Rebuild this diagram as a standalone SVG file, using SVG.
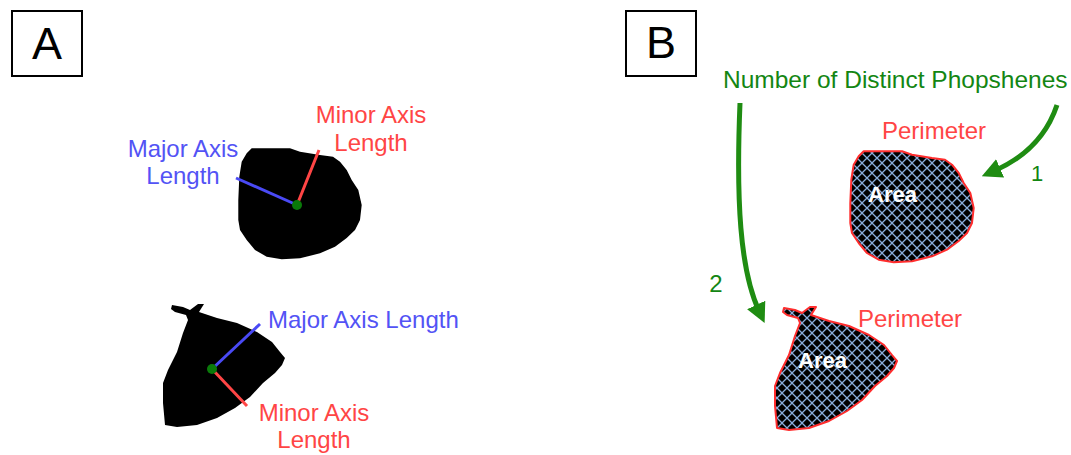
<svg xmlns="http://www.w3.org/2000/svg" width="1071" height="455" viewBox="0 0 1071 455">
<style>
text{font-family:"Liberation Sans",Arial,sans-serif;font-size:24px}
.lbl{fill:none;stroke:#000;stroke-width:2}
.big{font-size:45px;fill:#000;text-anchor:middle}
.blue{fill:#5353f5}
.red{fill:#ff4545}
.green{fill:#138613}
.mid{text-anchor:middle}
.area{fill:#fff;font-weight:bold;font-size:22px}
.blob{fill:#000}
.hblob{fill:url(#hatch);stroke:#ff2d2d;stroke-width:2;stroke-linejoin:round}
.maj{stroke:#4a4af5;stroke-width:3}
.min{stroke:#ff4545;stroke-width:3}
.cen{fill:#0a7a0a}
.arr{fill:none;stroke:#1f8c12;stroke-width:5;marker-end:url(#ah)}
</style>
<defs>
<pattern id="hatch" patternUnits="userSpaceOnUse" width="10" height="10">
<rect width="10" height="10" fill="#000"/>
<path d="M0,0L10,10M10,0L0,10" stroke="#8aaedc" stroke-width="1.3"/>
</pattern>
<path id="b1" d="M251.7,148.3L290,148.3L300,151.7L320,155L333,156.7L340,161.7L346.7,170L351.7,180L358.3,190L361.7,205L360,220L355,230L346.7,238L335,246.7L320,253.3L300,258.3L281.7,259.3L266.7,256.7L255,250L246.7,240L240,230L238.3,220L238.3,200L239.3,176.7L241.7,161.7L246.7,153.3Z"/>
<path id="b2" d="M172,305L183,307L190,310L198,304L204,304L199,312L217,318L237,323L257,332L272,342L280,352L285,358L282,365L275,373L263,383L250,397L235,408L217,418L197,425L177,427L165,425L163,403L163,383L168,370L177,352L183,333L188,320L186,315L175,312L171,309Z"/>
<marker id="ah" markerUnits="userSpaceOnUse" markerWidth="20" markerHeight="20" viewBox="0 0 18 18" refX="6" refY="9" orient="auto">
<path d="M0,0L18,9L0,18Z" fill="#1f8c12"/>
</marker>
</defs>
<rect width="1071" height="455" fill="#fff"/>
<g id="labelA"><rect class="lbl" x="12" y="11" width="70" height="65"/><text class="big" x="47" y="59">A</text></g>
<g id="labelB"><rect class="lbl" x="626" y="11" width="70" height="65"/><text class="big" x="661" y="58">B</text></g>
<g id="shapeA1">
<use href="#b1" class="blob"/>
<line class="maj" x1="236" y1="178" x2="297" y2="205"/>
<line class="min" x1="319" y1="150" x2="297" y2="205"/>
<circle class="cen" cx="297" cy="205" r="5"/>
<text class="blue mid" x="183" y="157">Major Axis</text>
<text class="blue mid" x="183" y="184">Length</text>
<text class="red mid" x="371" y="123">Minor Axis</text>
<text class="red mid" x="371" y="151">Length</text>
</g>
<g id="shapeA2">
<use href="#b2" class="blob"/>
<line class="maj" x1="260" y1="324" x2="212" y2="369"/>
<line class="min" x1="247" y1="406" x2="212" y2="369"/>
<circle class="cen" cx="212" cy="369" r="5"/>
<text class="blue" x="268" y="328">Major Axis Length</text>
<text class="red mid" x="314" y="421">Minor Axis</text>
<text class="red mid" x="314" y="448">Length</text>
</g>
<g id="count"><text class="green" x="723" y="88" style="font-size:24.5px">Number of Distinct Phopshenes</text></g>
<g id="shapeB1">
<use href="#b1" class="hblob" transform="translate(612,3)"/>
<text class="red" x="882" y="139">Perimeter</text>
<text class="area" x="868" y="202">Area</text>
</g>
<g id="shapeB2">
<use href="#b2" class="hblob" transform="translate(612,3)"/>
<text class="red" x="858" y="327">Perimeter</text>
<text class="area" x="798" y="368">Area</text>
</g>
<g id="connectors">
<path class="arr" d="M1057,105Q1042,150 994,171"/>
<path class="arr" d="M740,103C736,200 740,270 759,311"/>
<text class="green mid" x="1037" y="181" style="font-size:22px">1</text>
<text class="green mid" x="716" y="292">2</text>
</g>
</svg>
